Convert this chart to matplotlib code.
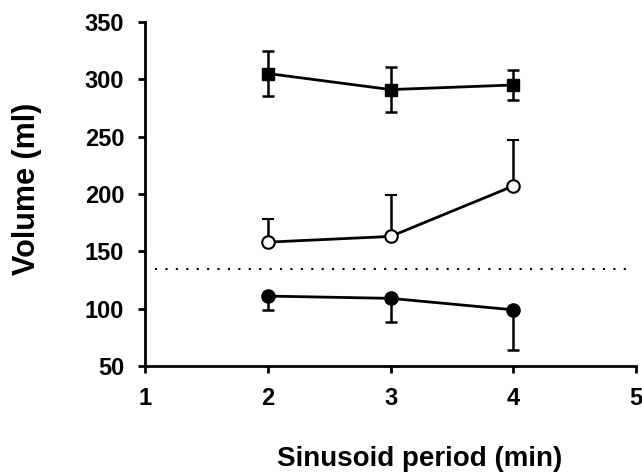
import matplotlib.pyplot as plt

plt.rcParams["font.family"] = ["Liberation Sans", "DejaVu Sans"]
plt.rcParams["font.weight"] = "bold"

periodo = [2, 3, 4]

quadrado = [305, 291, 295]
quadrado_erro = [20, 19.5, 13]

aberto = [158, 163, 207]
aberto_erro = [20, 36, 40]

cheio = [111, 109, 99]
cheio_erro = [12.5, 21, 35]

referencia = 135

fig = plt.figure(figsize=(6.42, 4.76), dpi=100)
ax = fig.add_axes([0.226, 0.231, 0.765, 0.723])

cap = dict(capsize=4, capthick=1.8, elinewidth=1.8, color="black", lw=2)

ax.errorbar(periodo, quadrado, yerr=quadrado_erro, marker="s", ms=9,
            mfc="black", mec="black", **cap)
ax.errorbar(periodo, aberto, yerr=[[0, 0, 0], aberto_erro], marker="o", ms=9,
            mfc="white", mec="black", mew=1.5, **cap)
ax.errorbar(periodo, cheio, yerr=[cheio_erro, [0, 0, 0]], marker="o", ms=9.5,
            mfc="black", mec="black", **cap)

ax.axhline(referencia, xmin=0.02, xmax=0.985, color="black", ls=(0, (1, 4)), lw=1.5)

ax.set_xlim(1, 5)
ax.set_ylim(50, 350)
ax.set_xticks([1, 2, 3, 4, 5])
ax.set_yticks([50, 100, 150, 200, 250, 300, 350])

for lado in ["top", "right"]:
    ax.spines[lado].set_visible(False)
for lado in ["left", "bottom"]:
    ax.spines[lado].set_linewidth(2)

ax.tick_params(direction="out", length=5, width=2, labelsize=17, pad=10)

ax.set_xlabel("Sinusoid period (min)", fontsize=20, fontweight="bold", labelpad=26)
ax.xaxis.label.set_x(0.56)
ax.set_ylabel("Volume (ml)", fontsize=22, fontweight="bold", labelpad=31)
ax.yaxis.label.set_y(0.515)

plt.savefig("out.png", dpi=100)
